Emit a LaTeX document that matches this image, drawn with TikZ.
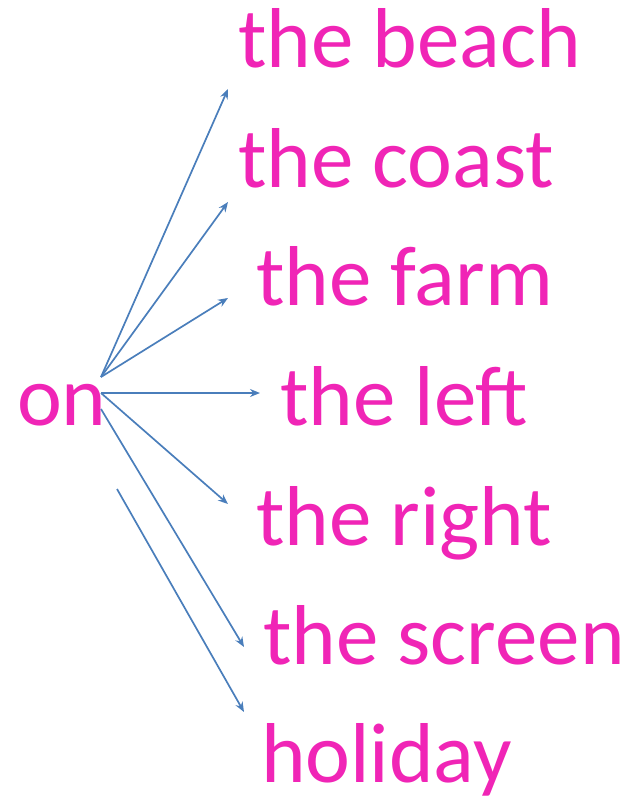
\documentclass[tikz,border=0pt]{standalone}
\usepackage{fontspec}
\setmainfont{Carlito}
\definecolor{wordpink}{RGB}{240,37,182}
\definecolor{arrowblue}{RGB}{74,126,187}
\tikzset{
  word/.style={anchor=base west, inner sep=0pt, outer sep=0pt, text=wordpink, font=\fontsize{85}{100}\selectfont},
  link/.style={draw=arrowblue, line width=1.7pt, -{Stealth[length=10pt,width=8pt]}}
}
\usetikzlibrary{arrows.meta}
\begin{document}
\begin{tikzpicture}[x=1pt,y=-1pt]
\useasboundingbox (0,0) rectangle (638,798);
\node[word] (on) at (17,425) {on};
\node[word] (beach) at (238,67) {the beach};
\node[word] (coast) at (238,187) {the coast};
\node[word] (farm) at (256,305) {the farm};
\node[word] (left) at (280,425) {the left};
\node[word] (right) at (256,545) {the right};
\node[word] (screen) at (263,664) {the screen};
\node[word] (holiday) at (261,782) {holiday};
\coordinate (o1) at (101,377);
\coordinate (o2) at (101,393);
\coordinate (o3) at (101,409);
\coordinate (o4) at (117,489);
\coordinate (t1) at (228,89);
\coordinate (t2) at (228,202);
\coordinate (t3) at (228,298);
\coordinate (t4) at (260,393);
\coordinate (t5) at (228,504);
\coordinate (t6) at (244,647);
\coordinate (t7) at (244,712);
\draw[link] (o1) -- (t1);
\draw[link] (o1) -- (t2);
\draw[link] (o1) -- (t3);
\draw[link] (o2) -- (t4);
\draw[link] (o2) -- (t5);
\draw[link] (o3) -- (t6);
\draw[link] (o4) -- (t7);
\end{tikzpicture}
\end{document}
